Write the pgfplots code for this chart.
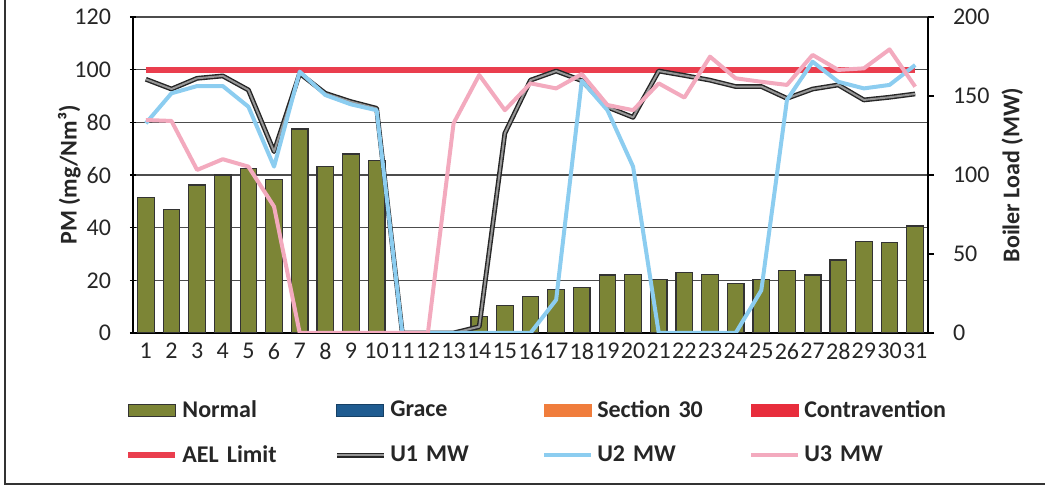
\documentclass[border=0pt]{standalone}
\usepackage{fontspec}
\setmainfont{Carlito}
\usepackage{pgfplots}
\usepackage{pgfplotstable}
\pgfplotsset{compat=1.18}

\definecolor{normalc}{RGB}{124,133,54}
\definecolor{gracec}{RGB}{31,92,145}
\definecolor{sec30c}{RGB}{240,125,60}
\definecolor{contrac}{RGB}{232,45,60}
\definecolor{aelc}{RGB}{234,62,78}
\definecolor{u1c}{RGB}{150,150,150}
\definecolor{u2c}{RGB}{140,205,240}
\definecolor{u3c}{RGB}{243,170,190}

\pgfplotsset{
  barleg/.style={legend image code/.code={\draw[##1] (0pt,-3pt) rectangle (23.5pt,3pt);}},
  lineleg/.style={legend image code/.code={\draw[##1] (0pt,0pt) -- (23.5pt,0pt);}},
}

% PM by day (days 11-13 have no bar)
\pgfplotstableread{
day pm
1 51.5
2 47
3 56.2
4 60
5 62.5
6 58.2
7 77.5
8 63.2
9 68
10 65.5
14 6.2
15 10.3
16 14
17 16.6
18 17.4
19 22
20 22.3
21 20.4
22 23
23 22.3
24 18.9
25 20.4
26 23.7
27 22
28 27.7
29 34.7
30 34.3
31 40.6
}\pmdata

% boiler load by unit
\pgfplotstableread{
day u1 u2 u3
1 160.6 132.7 134.8
2 154.4 151.7 134.2
3 161.2 156.3 103.2
4 162.7 156.3 110
5 153.8 143.2 105.3
6 114.8 105.3 80
7 164.3 165.4 0
8 151.7 150.6 0
9 146.4 144.7 0
10 142.2 141 0
11 0 0 0
12 0 0 0
13 0 0 132.7
14 4 0 163.3
15 126.4 0 141
16 160 0 158
17 165.8 21 154.8
18 159.7 159.7 163.9
19 143 141 144.3
20 136.5 105.3 141
21 165.8 0 158
22 163 0 149
23 160 0 174.9
24 156 0 161.2
25 156 27 159
26 148.5 147.5 157
27 154.4 171.7 176
28 157 159 166.5
29 147.5 154.8 167.5
30 149.2 157 179.5
31 151.3 169.6 155.9
}\mwdata

\begin{document}
\begin{tikzpicture}
\path[use as bounding box] (0,0) rectangle (522.5pt,243pt);

\pgfplotsset{
  every axis/.append style={
    at={(66.5pt,76.5pt)}, anchor=south west,
    scale only axis, width=397.5pt, height=158pt,
    xmin=0.5, xmax=31.5,
    tick align=outside, major tick length=3pt,
    tick style={black, line width=0.6pt},
    ticklabel style={font=\fontsize{12}{14}\selectfont, text=black!85},
    /pgf/number format/assume math mode=true,
  },
}

\begin{axis}[
  axis x line=bottom, axis y line=left,
  axis line style={black, line width=0.8pt, -},
  ymin=0, ymax=120, ytick={0,20,...,120},
  yticklabel style={xshift=-6pt},
  ymajorgrids, grid style={black!70, line width=0.6pt},
  xtick={1,...,31}, xtick style={draw=none},
  ylabel={\bfseries PM (mg/Nm³)},
  ylabel style={font=\fontsize{12}{14}\selectfont, text=black!85, at={(axis description cs:-0.08,0.5)}, anchor=center},
]
\addplot[ybar, bar width=8.3pt, fill=normalc, draw=black!80, line width=0.6pt] table[x=day, y=pm] {\pmdata};
\addplot[aelc, line width=3pt] coordinates {(1,100) (31,100)};
\end{axis}

\begin{axis}[
  axis x line=none, axis y line*=right,
  axis line style={black, line width=0.8pt, -},
  ymin=0, ymax=200, ytick={0,50,...,200},
  yticklabel style={xshift=6pt},
  ylabel={\bfseries Boiler Load (MW)},
  ylabel style={font=\fontsize{12}{14}\selectfont, text=black!85, at={(axis description cs:1.106,0.5)}, anchor=center},
  legend columns=4,
  legend cell align=left,
  legend style={draw=none, fill=none, inner sep=0pt, at={(-0.01,-0.2)}, anchor=north west,
    font=\fontsize{12}{14}\selectfont\bfseries, text=black!85,
    nodes={text width=74pt},
    /tikz/every even column/.append style={column sep=0pt},
    row sep=8.5pt},
]
\addlegendimage{barleg, fill=normalc, draw=black!80}
\addlegendentry{Normal}
\addlegendimage{barleg, fill=gracec, draw=gracec!70!black}
\addlegendentry{Grace}
\addlegendimage{barleg, fill=sec30c, draw=sec30c}
\addlegendentry{Section 30}
\addlegendimage{barleg, fill=contrac, draw=contrac}
\addlegendentry{Contravention}
\addlegendimage{lineleg, aelc, line width=3pt}
\addlegendentry{AEL Limit}
\addplot[lineleg, u1c, line width=1pt, line join=round, preaction={draw=black!85, line width=2.4pt}] table[x=day, y=u1] {\mwdata};
\addlegendentry{U1 MW}
\addplot[lineleg, u2c, line width=2pt, line join=round] table[x=day, y=u2] {\mwdata};
\addlegendentry{U2 MW}
\addplot[lineleg, u3c, line width=2pt, line join=round] table[x=day, y=u3] {\mwdata};
\addlegendentry{U3 MW}
\end{axis}

\draw[black!80, line width=0.9pt] (2.5pt,243pt) -- (2.5pt,1pt) -- (522.5pt,1pt);
\end{tikzpicture}
\end{document}
